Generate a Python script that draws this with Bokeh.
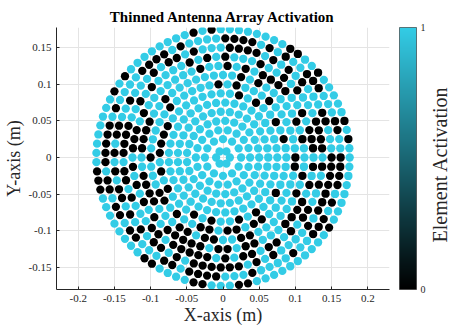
import math
from bokeh.plotting import figure
from bokeh.layouts import row
from bokeh.models import ColumnDataSource, LinearColorMapper, ColorBar, FixedTicker, Label
from bokeh.embed import file_html
from bokeh.resources import INLINE

# ---- data ----
RING_RADIUS = [0.0095, 0.025, 0.0375, 0.05, 0.0625, 0.075, 0.0875,
               0.1, 0.1125, 0.125, 0.1375, 0.15, 0.1625, 0.175]
# activation of each element, ring by ring, element 0 at angle 0, counter-clockwise
RING_ACTIVATION = [
    "111111",
    "111111111111",
    "111111111111111111",
    "1111111111111111111111111",
    "1111111111111111111111111111111",
    "1111111111111111111111111111111111111",
    "1101011010" "1111111100" "0010101110" "1011010110" "111",
    "0111111011" "1010111110" "1111101110" "0101100100" "1001111110",
    "1101011111" "0101111111" "1011000011" "0000111001" "0011001111" "110101",
    "1000101100" "0010101101" "1111110100" "0101010101" "0000010010" "0111000010" "10",
    "1000011101" "0110111010" "1011110101" "1000010010" "1110010000" "0101001001" "010011010",
    "0111001110" "1010100001" "1101001011" "1011001010" "1001010100" "1010000001" "0101111010" "00000",
    "0110011100" "0110101000" "0111101000" "0111101000" "0010010010" "0111001000" "0111011110" "1100010100" "0",
    "1101011111" "0110011111" "1110101111" "1111010111" "1111100011" "1111110011" "1100111001" "1111111110" "1111111",
]
X_TICKS = [-0.2, -0.15, -0.1, -0.05, 0, 0.05, 0.1, 0.15, 0.2]
X_TICK_LABELS = ["-0.2", "-0.15", "-0.1", "-0.05", "0", "0.05", "0.1", "0.15", "0.2"]
Y_TICKS = [-0.15, -0.1, -0.05, 0, 0.05, 0.1, 0.15]
Y_TICK_LABELS = ["-0.15", "-0.1", "-0.05", "0", "0.05", "0.1", "0.15"]
CBAR_TICKS = [0, 1]
CBAR_LABEL = "Element Activation"

ON_COLOR = (51, 204, 230)
OFF_COLOR = (0, 0, 0)
FONT = "Liberation Serif"
TXT = "#262626"

# ---- element positions from the ring layout ----
xs, ys, act = [], [], []
for r, pattern in zip(RING_RADIUS, RING_ACTIVATION):
    n = len(pattern)
    for k, ch in enumerate(pattern):
        a = 2 * math.pi * k / n
        xs.append(r * math.cos(a))
        ys.append(r * math.sin(a))
        act.append(int(ch))

palette = []
for i in range(256):
    t = i / 255
    c = [round(OFF_COLOR[j] + (ON_COLOR[j] - OFF_COLOR[j]) * t) for j in range(3)]
    palette.append("#%02x%02x%02x" % tuple(c))
mapper = LinearColorMapper(palette=palette, low=0, high=1)

src = ColumnDataSource(dict(x=xs, y=ys, act=act))

W_SIDE = 21
p = figure(width=449 - W_SIDE, height=333, output_backend="svg", toolbar_location=None,
           x_range=(-0.23, 0.23), y_range=(-0.18, 0.1773),
           min_border_left=56, min_border_right=60 - W_SIDE, min_border_top=27, min_border_bottom=44)

p.scatter("x", "y", source=src, size=8.3, line_color=None,
          fill_color={"field": "act", "transform": mapper})

p.title.text = "Thinned Antenna Array Activation"
p.title.align = "center"
p.title.text_font = FONT
p.title.text_font_style = "bold"
p.title.text_font_size = "15px"
p.title.text_color = "#000000"
p.title.standoff = 5
p.title.offset = 0

p.outline_line_color = None
p.background_fill_color = "white"

for ax, ticks, labels, name, lstand in ((p.xaxis[0], X_TICKS, X_TICK_LABELS, "X-axis (m)", 0),
                                        (p.yaxis[0], Y_TICKS, Y_TICK_LABELS, "Y-axis (m)", 2)):
    ax.ticker = FixedTicker(ticks=ticks)
    ax.major_label_overrides = dict(zip(ticks, labels))
    ax.major_tick_in = 3
    ax.major_tick_out = 0
    ax.minor_tick_line_color = None
    ax.axis_line_color = TXT
    ax.major_tick_line_color = TXT
    ax.major_label_text_font = FONT
    ax.major_label_text_font_size = "11px"
    ax.major_label_text_color = TXT
    ax.major_label_standoff = 5
    ax.axis_label = name
    ax.axis_label_text_font = FONT
    ax.axis_label_text_font_size = "18px"
    ax.axis_label_text_font_style = "normal"
    ax.axis_label_text_color = TXT
    ax.axis_label_standoff = lstand

p.xgrid.ticker = FixedTicker(ticks=X_TICKS)
p.ygrid.ticker = FixedTicker(ticks=Y_TICKS)
p.grid.grid_line_color = "#e4e4e4"
p.grid.grid_line_width = 1

cb = ColorBar(color_mapper=mapper, ticker=FixedTicker(ticks=CBAR_TICKS),
              width=17, height=262, margin=0, padding=0, location=(10, 0),
              label_standoff=4, major_label_text_font=FONT, major_label_text_font_size="10px",
              major_label_text_color=TXT, major_tick_line_color=None,
              bar_line_color=TXT, bar_line_width=0.6,
              border_line_color=None, background_fill_color=None)
p.add_layout(cb, "right")

# narrow strip to the right that carries the colour-bar caption (pixel-based ranges)
side = figure(width=W_SIDE, height=333, output_backend="svg", toolbar_location=None,
              title=None, x_axis_type=None, y_axis_type=None,
              x_range=(0, W_SIDE), y_range=(333, 0), min_border=0)
side.outline_line_color = None
side.grid.visible = False
side.add_layout(Label(x=11, y=174, text=CBAR_LABEL, angle=math.pi / 2,
                      text_align="center", text_baseline="middle",
                      text_font=FONT, text_font_size="20px", text_color=TXT))

layout = row(p, side, spacing=0)
open("out.html", "w").write(file_html(layout, INLINE))
